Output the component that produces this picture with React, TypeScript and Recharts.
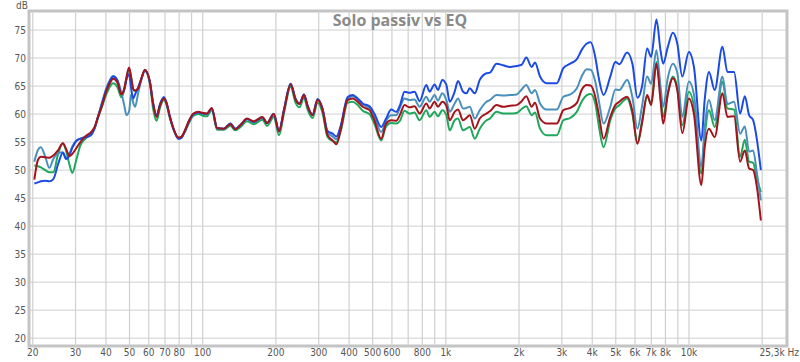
import React from "react";
import {
  CartesianGrid,
  Line,
  LineChart,
  ReferenceArea,
  ReferenceLine,
  XAxis,
  YAxis,
} from "recharts";

// frequency points (Hz) shared by all four traces
const freqs = [
  20.3, 21.0, 21.6, 22.5, 23.4, 24.3, 25.4, 26.6, 27.4, 28.3, 29.1, 30.2, 31.4,
  32.7, 33.8, 34.8, 36.0, 37.1, 38.6, 40.1, 41.5, 42.8, 44.6, 46.3, 47.6, 48.6,
  49.8, 50.8, 51.8, 52.7, 54.3, 56.0, 57.8, 60.6, 62.5, 64.6, 66.8, 69.2, 71.0,
  73.3, 76.3, 79.4, 81.9, 84.5, 88.0, 91.6, 96.0, 100, 103.9, 109, 114.6, 122,
  130, 136, 144, 152, 162, 176, 184, 196, 206, 216, 230, 241, 250, 261, 270, 283,
  297, 311, 326, 342, 355, 370, 394, 414, 434, 455, 485, 508, 542, 568, 596, 625,
  648, 676, 709, 743, 780, 831, 857, 899, 928, 967, 1005, 1037, 1087, 1122, 1177,
  1215, 1254, 1315, 1379, 1470, 1517, 1616, 1721, 1834, 1955, 2050, 2142, 2254,
  2326, 2440, 2600, 2858, 3044, 3246, 3458, 3626, 3802, 3942, 4116, 4254, 4454,
  4746, 4978, 5170, 5564, 5852, 6136, 6416, 6728, 6988, 7348, 7634, 7832, 8184,
  8584, 8950, 9386, 9990, 10480, 11242, 11600, 12084, 12756, 13726, 14394, 15326,
  16226, 16968, 17674, 18358, 19020, 19752,
];

const red = [
  48.3, 51.8, 52.4, 52.3, 52.2, 52.6, 53.5, 54.8, 53.8, 52.5, 52.9, 53.9, 55.0,
  55.9, 56.4, 56.8, 57.8, 59.5, 61.6, 64.0, 65.5, 66.3, 65.6, 63.5, 64.6, 66.6,
  68.3, 66.5, 64.5, 64.2, 64.6, 66.4, 67.9, 65.8, 61.9, 59.5, 61.6, 62.8, 61.9,
  59.5, 57.1, 55.8, 56.0, 57.1, 58.9, 60.1, 60.4, 60.2, 60.1, 61.1, 57.5, 57.4,
  58.2, 57.3, 58.2, 59.2, 58.7, 59.5, 58.4, 60.0, 56.9, 60.7, 65.3, 62.6, 61.8,
  63.4, 61.4, 59.8, 62.5, 60.8, 56.3, 55.3, 54.6, 57.4, 62.5, 62.8, 62.2, 61.3,
  60.7, 58.9, 55.6, 58.3, 58.9, 58.8, 59.9, 61.6, 61.2, 61.4, 60.1, 61.9, 61.0,
  62.2, 61.3, 62.2, 61.5, 58.9, 60.4, 60.8, 58.9, 59.3, 59.8, 57.4, 59.2, 60.1,
  60.5, 61.6, 61.3, 61.5, 61.6, 62.3, 63.2, 61.3, 62.0, 59.2, 58.3, 58.3, 60.7,
  61.1, 62.0, 64.4, 65.2, 65.1, 63.1, 60.0, 55.6, 59.5, 61.6, 62.2, 63.1, 60.5,
  54.7, 58.5, 63.4, 61.6, 69.0, 62.5, 58.3, 63.5, 66.4, 64.3, 56.6, 62.8, 60.0,
  47.3, 54.0, 57.4, 55.9, 63.7, 59.5, 59.6, 51.5, 53.5, 50.3, 50.0, 47.0, 41.0,
];

const blue = [
  47.6, 47.8, 48.0, 48.1, 48.0, 48.4, 51.0, 53.1, 52.0, 52.6, 54.0, 55.2, 55.6,
  55.8, 56.0, 56.3, 57.6, 59.5, 62.0, 64.3, 65.8, 66.7, 66.0, 63.6, 64.4, 66.2,
  67.1, 64.5, 62.8, 63.5, 64.8, 66.4, 67.8, 65.8, 61.9, 59.7, 61.8, 63.0, 62.0,
  59.5, 57.0, 55.6, 55.8, 57.0, 58.8, 60.0, 60.3, 60.1, 60.0, 61.0, 57.5, 57.4,
  58.3, 57.4, 58.2, 59.1, 58.6, 59.4, 58.4, 60.0, 57.0, 60.8, 65.4, 62.7, 61.9,
  63.5, 61.5, 59.9, 62.7, 61.0, 57.0, 56.5, 56.0, 58.0, 63.0, 63.4, 62.8, 61.9,
  61.4, 60.1, 57.7, 59.2, 60.8, 60.4, 61.6, 64.0, 63.8, 64.0, 62.3, 65.2, 64.0,
  65.3, 64.3, 66.1, 65.2, 62.2, 64.0, 65.9, 64.0, 63.7, 64.6, 63.7, 66.1, 67.3,
  67.4, 69.0, 68.7, 68.4, 68.6, 68.8, 70.1, 68.4, 69.2, 66.7, 65.5, 65.5, 68.2,
  69.0, 69.8, 71.5, 72.6, 72.8, 70.2, 66.5, 63.4, 66.7, 69.3, 68.9, 71.0, 69.0,
  62.9, 65.0, 71.7, 70.2, 76.9, 71.4, 69.0, 72.0, 74.5, 72.6, 66.7, 71.1, 68.4,
  55.3, 62.5, 67.5, 64.3, 72.0, 67.5, 67.5, 60.1, 63.2, 59.8, 58.9, 55.5, 50.0,
];

const teal = [
  51.5, 53.6, 54.1, 52.4, 50.4, 52.0, 53.0, 53.2, 52.2, 53.0, 54.2, 55.3, 55.6,
  55.9, 56.1, 56.3, 57.6, 59.6, 62.2, 64.6, 66.1, 66.8, 66.0, 63.8, 61.5, 59.8,
  60.5, 63.5, 62.0, 61.3, 63.8, 66.2, 67.8, 65.8, 62.0, 59.8, 61.8, 63.0, 62.0,
  59.5, 57.0, 55.6, 55.8, 57.0, 58.8, 60.0, 60.3, 60.1, 60.0, 61.0, 57.5, 57.4,
  58.3, 57.4, 58.2, 59.1, 58.6, 59.4, 58.4, 60.0, 57.0, 60.8, 65.4, 62.7, 61.9,
  63.5, 61.5, 59.9, 62.6, 60.9, 56.8, 56.0, 55.5, 57.8, 62.8, 63.2, 62.6, 61.7,
  61.1, 59.6, 56.8, 58.8, 59.8, 59.8, 61.2, 62.8, 62.5, 62.6, 61.3, 63.1, 62.2,
  63.4, 62.4, 63.7, 62.5, 60.4, 61.9, 62.8, 61.0, 61.1, 61.3, 59.2, 60.7, 62.2,
  62.5, 63.4, 63.3, 63.4, 63.5, 64.4, 65.2, 63.7, 64.3, 61.9, 60.8, 60.8, 63.1,
  63.5, 64.6, 66.8, 68.0, 67.9, 65.8, 62.5, 58.3, 61.3, 64.4, 64.3, 66.1, 63.0,
  57.4, 61.5, 66.7, 65.4, 71.4, 65.0, 61.3, 66.5, 69.0, 67.4, 59.5, 65.8, 63.5,
  50.6, 57.5, 62.5, 58.9, 66.7, 61.8, 62.2, 56.5, 57.8, 53.3, 53.5, 49.5, 44.6,
];

const green = [
  50.8, 50.7, 50.5, 50.0, 49.6, 49.6, 52.8, 54.8, 53.5, 51.0, 49.5, 51.8, 54.4,
  55.5, 56.0, 56.5, 57.5, 59.3, 61.4, 63.5, 64.9, 65.5, 64.8, 63.0, 64.4, 66.5,
  68.1, 66.5, 64.4, 64.1, 64.5, 66.3, 67.8, 65.5, 61.0, 58.8, 61.2, 62.5, 61.7,
  59.2, 57.0, 55.8, 56.0, 56.8, 58.5, 59.7, 60.0, 59.7, 59.6, 60.7, 57.2, 57.2,
  57.9, 57.1, 57.8, 58.7, 58.2, 59.0, 57.9, 59.5, 56.2, 60.2, 64.9, 62.0, 61.2,
  62.9, 60.8, 59.3, 62.0, 60.2, 55.9, 55.2, 55.0, 57.0, 62.0, 62.2, 61.6, 60.6,
  60.0, 58.3, 55.3, 57.8, 58.4, 58.3, 58.8, 60.6, 60.1, 60.3, 58.9, 60.7, 59.5,
  60.4, 59.6, 60.7, 59.8, 57.1, 58.9, 59.2, 57.1, 57.4, 57.7, 55.6, 57.4, 58.9,
  59.2, 60.4, 60.1, 60.1, 60.2, 60.9, 61.4, 59.8, 60.3, 57.4, 56.2, 56.2, 58.9,
  59.3, 60.4, 62.3, 63.4, 63.6, 61.9, 58.0, 54.1, 58.9, 61.0, 61.6, 62.8, 60.0,
  54.8, 58.8, 63.1, 62.0, 69.3, 63.5, 59.5, 63.8, 66.7, 64.8, 58.0, 64.0, 61.5,
  49.4, 56.0, 60.7, 57.7, 65.8, 61.0, 60.8, 52.4, 55.4, 51.5, 51.3, 48.5, 46.1,
];

// axis ticks and grid
const xLabelTicks = [
  20, 30, 40, 50, 60, 70, 80, 100, 200, 300, 400, 500, 600, 800, 1000, 2000,
  3000, 4000, 5000, 6000, 7000, 8000, 10000, 25300,
];
const xGridLines = [
  20, 30, 40, 50, 60, 70, 80, 90, 100, 200, 300, 400, 500, 600, 700, 800, 900,
  1000, 2000, 3000, 4000, 5000, 6000, 7000, 8000, 9000, 10000, 20000,
];
const yTicks = [20, 25, 30, 35, 40, 45, 50, 55, 60, 65, 70, 75];

const X_MIN = 19.3;
const X_MAX = 25300;
const Y_MIN = 18.6;
const Y_MAX = 78.4;

const TICK_FONT = "Liberation Sans Narrow, DejaVu Sans Condensed, Liberation Sans, sans-serif";

const data = freqs.map((f, i) => ({
  f,
  red: red[i],
  blue: blue[i],
  teal: teal[i],
  green: green[i],
}));

const fmtFreq = (v: number) => {
  if (v === 25300) return "25,3k Hz";
  if (v >= 1000) return `${v / 1000}k`;
  return `${v}`;
};

const XTick = (props: any) => {
  const { x, y, payload } = props;
  const last = payload.value === 25300;
  return (
    <text
      x={last ? 799 : x}
      y={y}
      dy="0.71em"
      textAnchor={last ? "end" : "middle"}
      fill="#555"
      fontSize={10}
      fontFamily={TICK_FONT}
    >
      {fmtFreq(payload.value)}
    </text>
  );
};

export default function App() {
  return (
    <div
      style={{
        position: "absolute",
        left: 0,
        top: 0,
        width: 800,
        height: 362,
        background: "#fff",
        fontFamily: TICK_FONT,
      }}
    >
      <LineChart
        width={800}
        height={362}
        data={data}
        margin={{ top: 11, right: 13, left: 0, bottom: 0 }}
      >
        <CartesianGrid vertical={false} stroke="#d0d0d0" strokeDasharray="" />
        {xGridLines.map((g) => (
          <ReferenceLine key={g} x={g} stroke="#d0d0d0" strokeWidth={1.2} />
        ))}
        <XAxis
          dataKey="f"
          type="number"
          scale="log"
          domain={[X_MIN, X_MAX]}
          ticks={xLabelTicks}
          allowDataOverflow
          axisLine={false}
          tickLine={false}
          tickSize={0}
          tickMargin={3}
          height={16}
          interval={0}
          tick={<XTick />}
        />
        <YAxis
          type="number"
          domain={[Y_MIN, Y_MAX]}
          ticks={yTicks}
          allowDataOverflow
          axisLine={false}
          tickLine={false}
          tickSize={0}
          tickMargin={3}
          width={29}
          interval={0}
          tick={{ fill: "#555", fontSize: 10, fontFamily: TICK_FONT }}
        />
        <ReferenceArea
          x1={X_MIN}
          x2={X_MAX}
          y1={Y_MIN}
          y2={Y_MAX}
          fill="none"
          stroke="#c4c4c4"
          strokeWidth={3}
          ifOverflow="visible"
        />
        <Line type="monotone" dataKey="green" stroke="#1fa85c" strokeWidth={2} dot={false} isAnimationActive={false} />
        <Line type="monotone" dataKey="teal" stroke="#4a90bd" strokeWidth={2} dot={false} isAnimationActive={false} />
        <Line type="monotone" dataKey="blue" stroke="#1c4be3" strokeWidth={2} dot={false} isAnimationActive={false} />
        <Line type="monotone" dataKey="red" stroke="#a3141c" strokeWidth={2} dot={false} isAnimationActive={false} />
      </LineChart>
      <div
        style={{
          position: "absolute",
          left: 0,
          width: 800,
          top: 10,
          textAlign: "center",
          fontFamily: "Open Sans, sans-serif",
          fontWeight: 700,
          fontSize: 16,
          lineHeight: "20px",
          color: "#8a8a8a",
        }}
      >
        Solo passiv vs EQ
      </div>
      <div
        style={{
          position: "absolute",
          left: 16,
          top: 0,
          fontSize: 10,
          lineHeight: "12px",
          color: "#555",
        }}
      >
        dB
      </div>
    </div>
  );
}
